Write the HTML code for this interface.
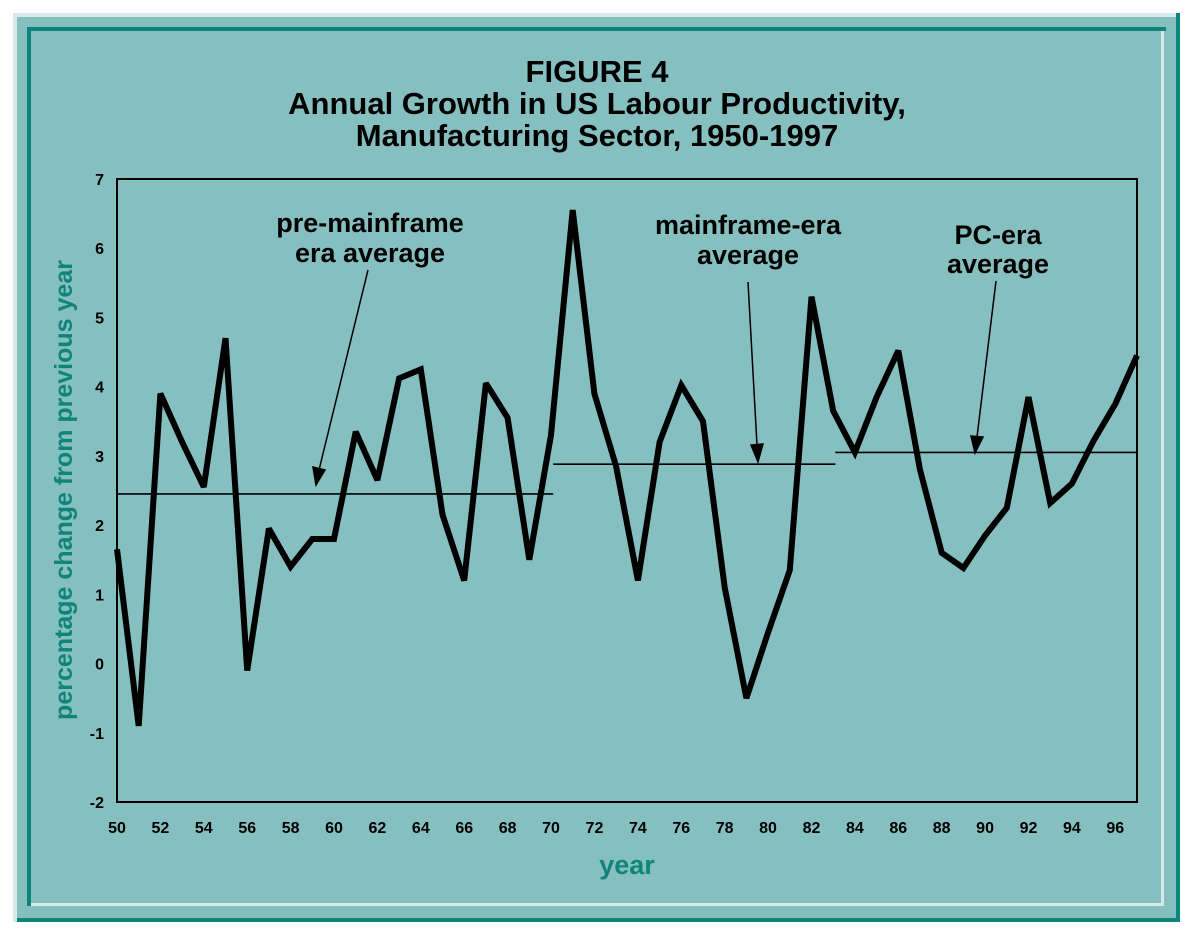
<!DOCTYPE html>
<html><head><meta charset="utf-8"><style>
body{margin:0;width:1194px;height:942px;background:#fff;overflow:hidden}
svg{display:block}
text{font-family:"Liberation Sans",sans-serif;font-weight:bold}
</style></head><body>
<svg width="1194" height="942">
<rect x="13" y="13" width="1167" height="909" fill="#d6e9e8"/>
<rect x="17" y="17" width="1163" height="905" fill="#86bfbf"/>
<path d="M1176 17 V922 H17 V918 H1176Z" fill="#0e847a"/>
<path d="M1180 13 V922 H1176 V13Z" fill="#0e847a"/>
<path d="M1164 29 V906 H29 V903 H1161 V29Z" fill="#d6e9e8"/>
<path d="M27 27 H1166 V31 H31 V906 H27Z" fill="#0e847a"/>
<text x="597" y="82" text-anchor="middle" font-size="31">FIGURE 4</text>
<text x="597" y="114" text-anchor="middle" font-size="31">Annual Growth in US Labour Productivity,</text>
<text x="597" y="146" text-anchor="middle" font-size="31">Manufacturing Sector, 1950-1997</text>
<rect x="117" y="179" width="1020" height="623" fill="none" stroke="#000" stroke-width="2"/>
<g id="yticks"></g>
<g id="xticks"></g>
<text transform="translate(72,490) rotate(-90)" text-anchor="middle" font-size="25" fill="#0e847a">percentage change from previous year</text>
<text x="627" y="874" text-anchor="middle" font-size="27" fill="#0e847a">year</text>
<g id="avgs"></g>
<path id="series" fill="none" stroke="#000" stroke-width="6" stroke-linejoin="miter" stroke-miterlimit="2.5"/>
<text x="370" y="232" text-anchor="middle" font-size="27">pre-mainframe</text>
<text x="370" y="262" text-anchor="middle" font-size="27">era average</text>
<text x="748" y="234" text-anchor="middle" font-size="27">mainframe-era</text>
<text x="748" y="264" text-anchor="middle" font-size="27">average</text>
<text x="998" y="244" text-anchor="middle" font-size="27">PC-era</text>
<text x="998" y="273" text-anchor="middle" font-size="27">average</text>
<g stroke="#000" stroke-width="1.5" fill="#000">
<line x1="368" y1="270" x2="319" y2="470"/>
<path d="M316 485 L313 467 L325 470Z"/>
<line x1="748" y1="282" x2="757" y2="445"/>
<path d="M758 462 L751 445 L763 444Z"/>
<line x1="996" y1="281" x2="977" y2="437"/>
<path d="M975 453 L971 436 L983 437Z"/>
</g>
</svg>
<script>
const years=[50,51,52,53,54,55,56,57,58,59,60,61,62,63,64,65,66,67,68,69,70,71,72,73,74,75,76,77,78,79,80,81,82,83,84,85,86,87,88,89,90,91,92,93,94,95,96,97];
const growth=[1.65,-0.9,3.9,3.2,2.55,4.7,-0.1,1.95,1.4,1.8,1.8,3.35,2.65,4.12,4.25,2.15,1.2,4.05,3.55,1.5,3.3,6.55,3.9,2.85,1.2,3.2,4.02,3.5,1.1,-0.5,0.45,1.35,5.3,3.65,3.05,3.85,4.52,2.8,1.6,1.38,1.85,2.25,3.85,2.32,2.6,3.22,3.75,4.45];
const yTicks=[-2,-1,0,1,2,3,4,5,6,7];
const xTicks=[50,52,54,56,58,60,62,64,66,68,70,72,74,76,78,80,82,84,86,88,90,92,94,96];
const avgStart=[50,70.1,83.1];
const avgEnd=[70.1,83.1,97];
const avgValue=[2.45,2.88,3.05];
const X=v=>117+(v-50)*(1020/47);
const Y=v=>802-(v+2)*(623/9);
const NS='http://www.w3.org/2000/svg';
const yt=document.getElementById('yticks');
yTicks.forEach(t=>{const e=document.createElementNS(NS,'text');
e.setAttribute('x',104);e.setAttribute('y',Y(t)+6);e.setAttribute('text-anchor','end');e.setAttribute('font-size','16');e.textContent=t;


yt.appendChild(e);});
const xt=document.getElementById('xticks');
xTicks.forEach(t=>{const e=document.createElementNS(NS,'text');
e.setAttribute('x',X(t));e.setAttribute('y',833);e.setAttribute('text-anchor','middle');e.setAttribute('font-size','16');e.textContent=t;


xt.appendChild(e);});
const ag=document.getElementById('avgs');
avgValue.forEach((v,i)=>{const l=document.createElementNS(NS,'line');
l.setAttribute('x1',X(avgStart[i]));l.setAttribute('x2',X(avgEnd[i]));l.setAttribute('y1',Y(v));l.setAttribute('y2',Y(v));
l.setAttribute('stroke','#000');l.setAttribute('stroke-width','1.6');


ag.appendChild(l);});
document.getElementById('series').setAttribute('d',years.map((y,i)=>(i?'L':'M')+X(y).toFixed(1)+' '+Y(growth[i]).toFixed(1)).join(' '));
</script>
</body></html>
